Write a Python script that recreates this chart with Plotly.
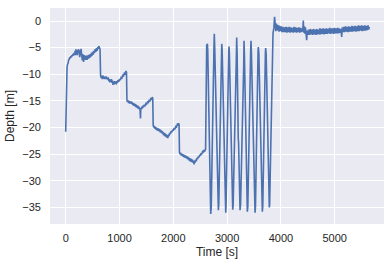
import plotly.graph_objects as go

# ---- data: (time [s], depth [m]) ----
descent_samples = [
    (0, -20.8), (4, -17.6), (8, -18.5), (14, -9.2),
    (25, -8.6), (35, -8.1), (45, -7.9), (55, -7.3), (65, -7.2), (75, -6.8), (85, -7.0), (95, -6.6), (105, -6.8), (115, -6.4),
    (125, -6.6), (135, -6.2), (145, -6.5), (155, -6.0), (165, -6.3), (175, -5.6), (182, -6.4), (190, -5.3), (198, -6.3), (206, -5.5),
    (214, -6.4), (222, -5.4), (230, -6.1), (238, -5.3), (246, -6.4), (254, -5.7), (262, -6.8), (270, -5.5), (278, -6.4), (285, -5.2),
    (292, -6.6), (300, -6.0), (308, -7.4), (316, -6.2), (324, -7.1), (332, -7.7), (340, -6.4), (348, -7.2), (356, -6.5), (364, -7.3),
    (372, -6.6), (380, -7.2), (388, -6.5), (396, -7.3), (404, -6.6), (412, -7.1), (420, -6.4), (430, -7.0), (440, -6.3), (450, -6.9),
    (460, -6.2), (470, -6.7), (480, -6.0), (490, -6.5), (500, -5.8), (512, -6.3), (524, -5.6), (536, -6.0), (548, -5.3), (560, -5.8),
    (572, -5.1), (584, -5.6), (596, -4.9), (606, -5.2), (615, -4.7), (625, -5.1), (632, -4.8), (638, -5.3),
    (648, -10.2), (660, -10.7), (670, -10.3), (680, -10.9), (690, -10.2), (700, -10.8), (710, -10.4), (720, -10.9), (730, -10.5),
    (740, -10.9), (750, -10.4), (760, -10.9), (770, -10.6), (780, -11.0), (790, -10.6), (800, -11.3), (810, -10.9), (820, -11.5),
    (830, -11.0), (840, -11.4), (850, -10.9), (860, -11.6), (870, -11.2), (880, -12.0), (890, -11.4), (900, -11.9), (910, -11.3),
    (920, -11.8), (930, -11.4), (940, -11.9), (950, -11.3), (960, -11.6), (972, -11.1), (985, -11.4), (1000, -10.9), (1015, -11.1),
    (1030, -10.6), (1045, -10.7), (1060, -10.2), (1075, -10.3), (1090, -9.8), (1105, -9.9), (1120, -9.4), (1130, -9.6),
    (1138, -14.9), (1150, -15.2), (1160, -14.9), (1170, -15.4), (1180, -15.0), (1190, -15.5), (1200, -15.1), (1210, -15.5),
    (1220, -15.1), (1230, -15.6), (1240, -15.3), (1250, -15.8), (1260, -15.4), (1270, -15.9), (1280, -15.5), (1290, -16.0),
    (1300, -15.6), (1310, -16.2), (1320, -15.8), (1330, -16.3), (1340, -15.9), (1350, -16.5), (1360, -16.1), (1370, -16.6),
    (1380, -16.3), (1390, -18.3), (1396, -16.3), (1405, -16.6), (1415, -16.1), (1425, -16.4), (1435, -15.9), (1445, -16.2),
    (1460, -15.7), (1475, -16.0), (1490, -15.5), (1505, -15.6), (1520, -15.2), (1535, -15.3), (1550, -14.9), (1565, -15.0),
    (1580, -14.6), (1595, -14.7), (1608, -14.3), (1618, -14.5),
    (1626, -19.6), (1638, -20.0), (1648, -19.7), (1658, -20.2), (1668, -19.9), (1678, -20.4), (1688, -20.0), (1698, -20.5),
    (1708, -20.1), (1718, -20.6), (1728, -20.2), (1738, -20.7), (1748, -20.3), (1758, -20.9), (1768, -20.5), (1778, -21.0),
    (1788, -20.6), (1798, -21.2), (1808, -20.8), (1818, -21.4), (1828, -21.0), (1838, -21.6), (1848, -21.1), (1858, -21.7),
    (1868, -21.3), (1878, -21.9), (1888, -21.4), (1898, -22.0), (1908, -21.3), (1920, -21.6), (1932, -21.0), (1945, -21.2),
    (1958, -20.7), (1972, -20.9), (1986, -20.4), (2000, -20.6), (2015, -20.1), (2030, -20.3), (2045, -19.8), (2060, -19.9),
    (2075, -19.4), (2090, -19.5), (2100, -19.2), (2107, -19.5),
    (2114, -24.6), (2125, -25.0), (2135, -24.7), (2145, -25.2), (2155, -24.9), (2165, -25.3), (2175, -25.0), (2185, -25.5),
    (2195, -25.1), (2205, -25.6), (2215, -25.2), (2225, -25.7), (2235, -25.3), (2245, -25.8), (2255, -25.4), (2265, -25.9),
    (2275, -25.5), (2285, -26.1), (2295, -25.7), (2305, -26.3), (2315, -25.8), (2325, -26.4), (2335, -25.9), (2345, -26.5),
    (2355, -26.0), (2365, -26.6), (2375, -26.2), (2385, -26.9), (2395, -26.2), (2405, -26.6), (2415, -26.0), (2428, -26.3),
    (2440, -25.7), (2452, -25.9), (2465, -25.4), (2478, -25.6), (2490, -25.1), (2503, -25.3), (2516, -24.8), (2530, -25.0),
    (2543, -24.5), (2556, -24.6), (2570, -24.2), (2585, -24.4), (2600, -24.1),
]

yoyo_samples = [
    (2608, -5.5), (2620, -4.6), (2633, -4.3), (2640, -5.5), (2695, -36.2), (2705, -35.0), (2755, -5.2), (2762, -2.4),
    (2770, -5.0), (2803, -22.6), (2810, -23.2), (2837, -35.5), (2845, -34.5), (2895, -5.0), (2900, -4.3), (2908, -5.5),
    (2974, -36.0), (2980, -34.8), (3030, -5.5), (3035, -4.8), (3042, -6.0), (3104, -35.4), (3112, -34.6), (3170, -7.6),
    (3178, -3.1), (3186, -6.0), (3207, -22.0), (3213, -22.8), (3240, -35.5), (3250, -34.5), (3308, -8.5), (3314, -3.7),
    (3322, -6.5), (3376, -35.8), (3385, -34.8), (3438, -5.5), (3444, -3.7), (3452, -6.0), (3519, -36.0), (3527, -34.9),
    (3575, -5.8), (3580, -4.9), (3590, -6.0), (3655, -35.8), (3663, -34.7), (3712, -5.8), (3717, -5.1), (3726, -6.2),
    (3778, -34.5), (3784, -35.0), (3790, -34.6), (3853, -2.3), (3870, -1.2), (3882, 0.8), (3888, -0.5),
]

surface_samples = [
    (3895, -0.2), (3905, -1.9), (3915, -0.5), (3925, -1.7), (3935, -0.7), (3945, -1.8), (3955, -0.8), (3965, -2.0),
    (3975, -0.9), (3990, -1.9), (4005, -1.0), (4020, -2.1), (4035, -1.1), (4050, -2.1), (4065, -1.2), (4080, -2.1),
    (4095, -1.1), (4110, -2.2), (4125, -1.2), (4140, -2.1), (4155, -1.1), (4170, -2.2), (4185, -1.2), (4200, -2.1),
    (4215, -1.3), (4230, -2.2), (4245, -1.1), (4260, -2.1), (4275, -1.2), (4290, -2.2), (4305, -1.3), (4320, -2.1),
    (4335, -1.2), (4350, -2.2), (4365, -1.3), (4380, -2.1), (4395, -1.4), (4405, -2.0), (4416, 0.1), (4425, -2.2),
    (4435, -1.0), (4445, -2.4), (4455, -1.2), (4470, -2.8), (4479, -3.6), (4488, -1.8), (4500, -2.6), (4515, -1.6),
    (4530, -2.6), (4545, -1.5), (4560, -2.5), (4575, -1.6), (4590, -2.6), (4605, -1.5), (4620, -2.5), (4635, -1.6),
    (4650, -2.6), (4665, -1.5), (4680, -2.5), (4695, -1.6), (4710, -2.5), (4725, -1.4), (4740, -2.5), (4755, -1.5),
    (4770, -2.4), (4785, -1.4), (4800, -2.5), (4815, -1.5), (4830, -2.4), (4845, -1.4), (4860, -2.4), (4875, -1.5),
    (4890, -2.3), (4905, -1.3), (4920, -2.4), (4935, -1.4), (4950, -2.3), (4965, -1.4), (4980, -2.4), (4995, -1.3),
    (5010, -2.3), (5025, -1.4), (5040, -2.3), (5055, -1.3), (5070, -2.3), (5085, -1.4), (5100, -2.2), (5115, -1.5),
    (5130, -3.0), (5140, -1.2), (5155, -2.1), (5170, -1.1), (5185, -2.1), (5200, -1.0), (5215, -2.0), (5230, -1.1),
    (5245, -2.1), (5260, -1.0), (5275, -2.0), (5290, -1.1), (5305, -2.0), (5320, -0.9), (5335, -2.0), (5350, -1.0),
    (5365, -1.9), (5380, -0.9), (5395, -2.0), (5410, -1.0), (5425, -1.9), (5440, -0.8), (5455, -1.9), (5470, -0.9),
    (5485, -1.8), (5500, -0.8), (5515, -1.9), (5530, -0.9), (5545, -1.8), (5560, -0.8), (5575, -1.8), (5590, -0.9),
    (5605, -1.7), (5620, -0.8), (5632, -1.6), (5643, -1.1),
]

x_ticks = [0, 1000, 2000, 3000, 4000, 5000]
x_tick_labels = ["0", "1000", "2000", "3000", "4000", "5000"]
y_ticks = [0, -5, -10, -15, -20, -25, -30, -35]
y_tick_labels = ["0", "\u22125", "\u221210", "\u221215", "\u221220", "\u221225", "\u221230", "\u221235"]

samples = descent_samples + yoyo_samples + surface_samples
time_s = [s[0] for s in samples]
depth_m = [s[1] for s in samples]

fig = go.Figure(go.Scatter(x=time_s, y=depth_m, mode="lines",
                           line=dict(color="#4C72B0", width=1.6)))

fig.update_layout(
    width=391, height=265,
    margin=dict(l=50, r=7, t=8, b=41),
    plot_bgcolor="#EAEAF2", paper_bgcolor="white",
    font=dict(family="Liberation Sans, Arial, sans-serif", size=11, color="#262626"),
    showlegend=False,
)
fig.update_xaxes(range=[-292, 5916], tickvals=x_ticks, ticktext=x_tick_labels,
                 showgrid=True, gridcolor="white", gridwidth=1, zeroline=False, showline=False,
                 ticks="", ticklabelstandoff=6, automargin=False,
                 title=dict(text="Time [s]", font=dict(size=12), standoff=4))
fig.update_yaxes(range=[-38.1, 2.44], tickvals=y_ticks, ticktext=y_tick_labels,
                 showgrid=True, gridcolor="white", gridwidth=1, zeroline=False, showline=False,
                 ticks="", ticklabelstandoff=8, automargin=False,
                 title=dict(text="Depth [m]", font=dict(size=12), standoff=5))

fig.write_html("out.html", config={"displayModeBar": False},
               post_script="document.body.style.margin='0';document.body.style.padding='0';")
